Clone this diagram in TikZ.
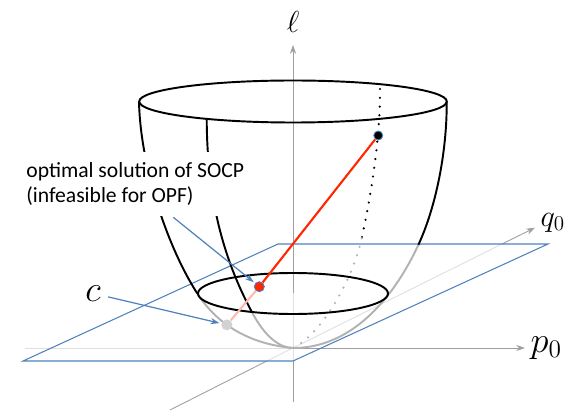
\documentclass[tikz,border=0pt]{standalone}
\usepackage{amsmath}
\usepackage{fontspec}
\setsansfont{Carlito}
\usetikzlibrary{arrows.meta, positioning}
\definecolor{planeblue}{RGB}{79,129,189}
\definecolor{socpred}{RGB}{255,38,0}
\definecolor{socppink}{RGB}{255,185,175}

\begin{document}
\begin{tikzpicture}[>={Stealth[length=5pt,width=3.5pt]},
  axis/.style={gray!75, line width=0.5pt},
  faint/.style={gray!25, line width=0.5pt},
  rim/.style={black, line width=1.1pt},
  lower/.style={gray!60, line width=1.1pt},
  back/.style={line width=1.4pt, dash pattern=on 0pt off 5pt, line cap=round},
  pointer/.style={planeblue, line width=0.7pt, ->, shorten >=1pt},
  dot/.style={circle, inner sep=0pt, minimum size=0.2cm, draw=planeblue, line width=0.5pt},
  lbl/.style={inner sep=3pt, text=black},
  note/.style={font=\sffamily\fontsize{12.3}{13.8}\selectfont, align=left, fill=white, inner xsep=2pt, inner ysep=6pt}]
  \useasboundingbox (-5.86,-1.24) rectangle (5.44,6.96);

  % 坐标轴
  \coordinate (O) at (0,0);
  \coordinate (ltop) at (0,6.06);
  \coordinate (lbot) at (0,-1.08);
  \coordinate (pleft) at (-5.36,0);
  \coordinate (pright) at (4.64,0);
  \coordinate (qtip) at (4.84,2.406);
  \coordinate (qend) at (-2.46,-1.24);

  \draw[axis] (qend) -- (-0.523,-0.26);
  \draw[faint] (-0.523,-0.26) -- (4.18,2.08);
  \draw[axis,->] (4.18,2.08) -- (qtip) node[lbl, anchor=west, yshift=3pt, font=\fontsize{17}{17}\selectfont] (q0label) {$q_0$};
  \draw[faint] (pleft) -- (O);
  \draw[axis,->] (O) -- (pright) node[lbl, right, font=\fontsize{21}{21}\selectfont] (p0label) {$p_0$};
  \draw[axis] (0,-0.26) -- (lbot);
  \draw[faint] (0,-0.26) -- (0,1.1);
  \draw[axis,->] (0,1.1) -- (ltop) node[lbl, above, yshift=4pt, font=\fontsize{16}{16}\selectfont] (elllabel) {$\ell$};

  % 平面
  \draw[planeblue, line width=0.6pt] (-5.4,-0.26) -- (0,-0.26) -- (5.1,2.08) -- (-0.3,2.08) -- cycle;

  % 碗的轮廓
  \draw[rim] (-3.08,4.93) .. controls (-3.05,3.6) and (-2.5,2.0) .. (-1.914,1.09);
  \draw[lower] (-1.914,1.09) .. controls (-1.644,0.67) and (-1.1,0.1) .. (0,0)
    node[pos=0.47, dot, fill=gray!35, draw=none, minimum size=0.22cm] (proj) {};
  \draw[rim] (-1.726,4.594) .. controls (-1.72,3.0) and (-1.4,1.8) .. (-0.826,0.726);
  \draw[lower] (-0.826,0.726) .. controls (-0.55,0.2) and (-0.25,0) .. (0,0);
  \draw[rim] (3.074,4.93) .. controls (3.08,3.9) and (2.85,2.8) .. (2.506,2.06);
  \draw[lower] (2.506,2.06) .. controls (2.2,1.4) and (1.4,0) .. (0,0);

  % 背面的虚线
  \draw[back] (1.74,5.18) .. controls (1.75,4.2) and (1.55,3.0) .. (1.374,2.194);
  \draw[back, gray!60] (1.374,2.194) .. controls (1.2,1.4) and (0.6,0.3) .. (0,0);

  % 两个椭圆
  \draw[rim] (0,4.93) ellipse [x radius=3.076, y radius=0.42];
  \draw[rim] (0,1.09) ellipse [x radius=1.9, y radius=0.41];

  % 两个点和连线
  \node[dot, fill=black, minimum size=0.18cm] (lift) at (1.705,4.25) {};
  \node[dot, fill=socpred] (socp) at (-0.674,1.226) {};
  \draw[socpred, line width=1.2pt] (lift) -- (socp);
  \draw[socppink, line width=1.2pt] (socp) -- (proj);

  % 标注
  \node[note, anchor=west] (socpnote) at (-5.41,3.28) {optimal solution of SOCP\\(infeasible for OPF)};
  \coordinate (notefoot) at (-2.394,2.614);
  \draw[pointer] (notefoot) -- (socp);
  \node[lbl, inner sep=4pt, font=\fontsize{21}{21}\selectfont] (clabel) at (-4.0,1.094) {$c$};
  \draw[pointer] (clabel) -- (proj);
\end{tikzpicture}
\end{document}
